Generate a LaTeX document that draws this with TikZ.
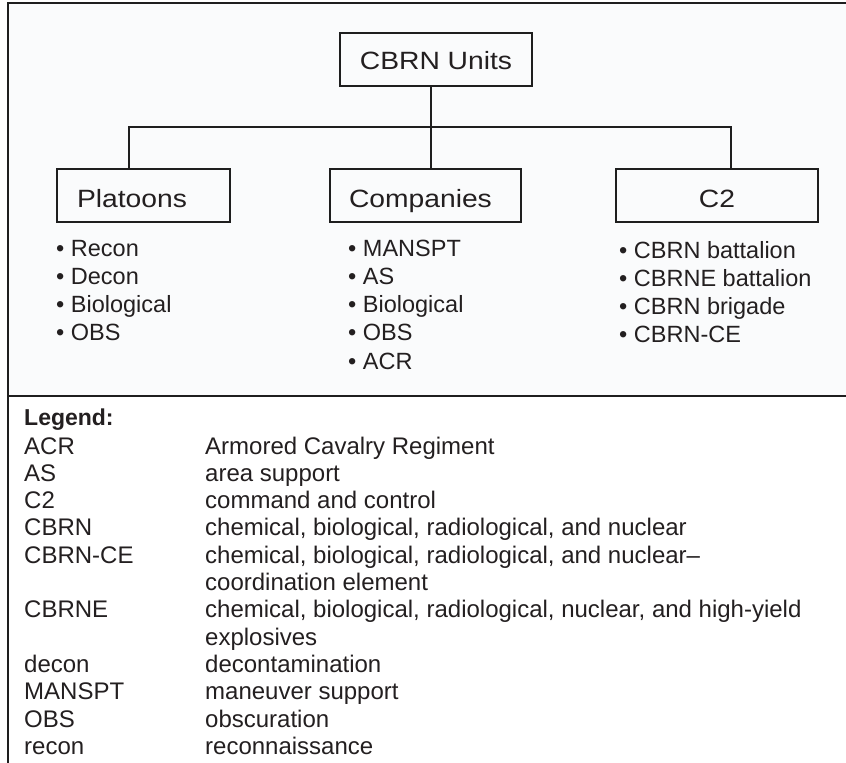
\documentclass[tikz,border=0pt]{standalone}
\usepackage{fontspec}
\setmainfont{Liberation Sans}
\newfontfamily\boxfont[FakeStretch=1.13]{Liberation Sans}
\definecolor{ink}{RGB}{30,30,30}
\definecolor{txt}{RGB}{35,31,32}
\definecolor{panel}{RGB}{250,251,252}
\tikzset{
  frameline/.style={draw=ink, line width=2.6pt},
  unitbox/.style={draw=ink, line width=2.5pt, rectangle, inner ysep=0pt,
    minimum height=53pt, text=txt, font=\boxfont\fontsize{25}{28}\selectfont,
    text height=25pt, text depth=2pt},
  conn/.style={draw=ink, line width=2.3pt},
  item/.style={anchor=base west, inner sep=0pt, text=txt,
    font=\fontsize{23.5}{28}\selectfont},
  abbr/.style={anchor=base west, inner sep=0pt, text=txt,
    font=\fontsize{24}{27}\selectfont},
  legtitle/.style={anchor=base west, inner sep=0pt, text=txt,
    font=\bfseries\fontsize{23}{27}\selectfont}
}
\begin{document}
\begin{tikzpicture}[x=1pt,y=-1pt]
\useasboundingbox (0,0) rectangle (846,763);
% panel background and frame
\fill[panel] (8,3) rectangle (846,396);
\draw[frameline] (846,3) -- (8,3) -- (8,763);
\draw[frameline] (8,396) -- (846,396);

% boxes
\node[unitbox, minimum width=192pt, text height=22pt, text depth=2.4pt, inner xsep=0pt] (root) at (436,59.5) {CBRN Units};
\node[unitbox, text width=133pt, align=left, inner xsep=20pt] (pl) at (143.5,195.5) {Platoons};
\node[unitbox, text width=153pt, align=left, inner xsep=19pt] (co) at (425.5,195.5) {Companies};
\node[unitbox, minimum width=202pt, inner xsep=0pt] (ctwo) at (717,195.5) {C2};

% connectors
\coordinate (bar) at (0,127);
\coordinate (rootdrop) at ([xshift=-5pt]root.south);
\coordinate (pldrop) at ([xshift=-14.5pt]pl.north);
\coordinate (codrop) at ([xshift=5.5pt]co.north);
\coordinate (ctwodrop) at ([xshift=14pt]ctwo.north);
\draw[conn] (rootdrop) -- (rootdrop |- bar);
\draw[conn, line join=miter] (pldrop) -- (pldrop |- bar) -- (ctwodrop |- bar) -- (ctwodrop);
\draw[conn] (codrop) -- (codrop |- bar);

% lists
\node[item] (pla) at (56,256) {• Recon};
\node[item] (plb) at (56,284.3) {• Decon};
\node[item] (plc) at (56,312.6) {• Biological};
\node[item] (pld) at (56,340.9) {• OBS};

\node[item] (coa) at (348,256) {• MANSPT};
\node[item] (cob) at (348,284.3) {• AS};
\node[item] (coc) at (348,312.6) {• Biological};
\node[item] (cod) at (348,340.9) {• OBS};
\node[item] (coe) at (348,369.2) {• ACR};

\node[item] (cta) at (619,258) {• CBRN battalion};
\node[item] (ctb) at (619,286.3) {• CBRNE battalion};
\node[item] (ctc) at (619,314.6) {• CBRN brigade};
\node[item] (ctd) at (619,342.9) {• CBRN-CE};

% legend
\node[legtitle] (leg) at (24,425) {Legend:};
\node[abbr] (ab1) at (24,454.0) {ACR};
\node[abbr] (de1) at (205,454.0) {Armored Cavalry Regiment};
\node[abbr] (ab2) at (24,481.3) {AS};
\node[abbr] (de2) at (205,481.3) {area support};
\node[abbr] (ab3) at (24,508.6) {C2};
\node[abbr] (de3) at (205,508.6) {command and control};
\node[abbr] (ab4) at (24,535.9) {CBRN};
\node[abbr] (de4) at (205,535.9) {chemical, biological, radiological, and nuclear};
\node[abbr] (ab5) at (24,563.2) {CBRN-CE};
\node[abbr] (de5) at (205,563.2) {chemical, biological, radiological, and nuclear–};
\node[abbr] (de5b) at (205,590.5) {coordination element};
\node[abbr] (ab6) at (24,617.8) {CBRNE};
\node[abbr] (de6) at (205,617.8) {chemical, biological, radiological, nuclear, and high-yield};
\node[abbr] (de6b) at (205,645.1) {explosives};
\node[abbr] (ab7) at (24,672.4) {decon};
\node[abbr] (de7) at (205,672.4) {decontamination};
\node[abbr] (ab8) at (24,699.7) {MANSPT};
\node[abbr] (de8) at (205,699.7) {maneuver support};
\node[abbr] (ab9) at (24,727.0) {OBS};
\node[abbr] (de9) at (205,727.0) {obscuration};
\node[abbr] (ab10) at (24,754.3) {recon};
\node[abbr] (de10) at (205,754.3) {reconnaissance};
\end{tikzpicture}
\end{document}
